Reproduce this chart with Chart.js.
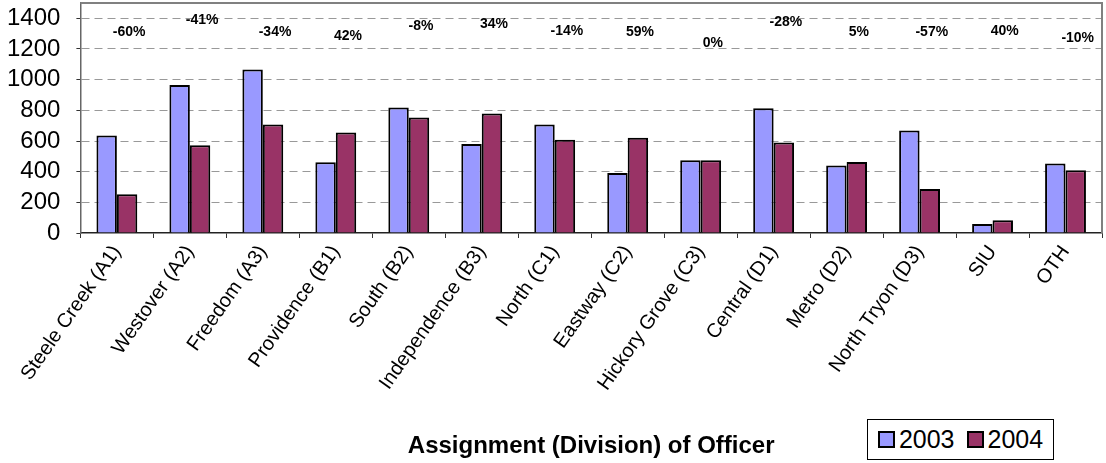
<!DOCTYPE html>
<html lang="en">
<head>
  <meta charset="UTF-8" />
  <title>Assignment (Division) of Officer</title>
  <script src="https://cdn.jsdelivr.net/npm/chart.js"></script>
  <style>
    html, body { margin: 0; padding: 0; background: #fff; }
    .wrap { position: relative; width: 1106px; height: 463px; }
    #legend {
      position: absolute; left: 867px; top: 419px; width: 185px; height: 39px;
      border: 1px solid #000; background: #fff;
      font-family: Arial, "Liberation Sans", sans-serif; font-size: 25px; color: #000;
      display: flex; align-items: center; justify-content: center; gap: 12px;
    }
    #legend span.item { display: flex; align-items: center; }
    #legend i { display: inline-block; width: 13px; height: 13px; border: 2px solid #000; margin-right: 4px; }
  </style>
</head>
<body>
  <div class="wrap">
    <canvas id="chart" width="1106" height="463"></canvas>
    <div id="legend"></div>
  </div>

  <script>
    const categories = [
      'Steele Creek (A1)', 'Westover (A2)', 'Freedom (A3)', 'Providence (B1)', 'South (B2)',
      'Independence (B3)', 'North (C1)', 'Eastway (C2)', 'Hickory Grove (C3)', 'Central (D1)',
      'Metro (D2)', 'North Tryon (D3)', 'SIU', 'OTH'
    ];
    const officers2003 = [636, 965, 1066, 461, 818, 581, 707, 391, 474, 814, 441, 669, 59, 454];
    const officers2004 = [252, 573, 707, 655, 753, 780, 608, 621, 474, 590, 463, 287, 83, 409];
    const changeLabels = ['-60%', '-41%', '-34%', '42%', '-8%', '34%', '-14%', '59%', '0%', '-28%', '5%', '-57%', '40%', '-10%'];
    // height (in axis units) where each change label sits
    const changeLabelHeights = [1309, 1388, 1307, 1283, 1349, 1362, 1318, 1307, 1235, 1373, 1307, 1307, 1318, 1268];
    const yTicks = [0, 200, 400, 600, 800, 1000, 1200, 1400];

    const colors = { y2003: '#9999FF', y2004: '#993366' };
    const font = 'Arial, "Liberation Sans", sans-serif';

    // percent change labels above the 2004 bars
    const changeLabelPlugin = {
      id: 'changeLabels',
      afterDatasetsDraw(chart) {
        const ctx = chart.ctx;
        const meta = chart.getDatasetMeta(1);
        const y = chart.scales.y;
        ctx.save();
        ctx.font = 'bold 14px ' + font;
        ctx.fillStyle = '#000';
        ctx.textAlign = 'center';
        ctx.textBaseline = 'middle';
        changeLabels.forEach((txt, i) => {
          ctx.fillText(txt, meta.data[i].x + 2, y.getPixelForValue(changeLabelHeights[i]));
        });
        ctx.restore();
      }
    };

    // gray frame on top and right of the plot area
    const framePlugin = {
      id: 'frame',
      afterDraw(chart) {
        const a = chart.chartArea;
        const ctx = chart.ctx;
        ctx.save();
        ctx.strokeStyle = '#808080';
        ctx.lineWidth = 2;
        ctx.beginPath();
        ctx.moveTo(a.left, a.top);
        ctx.lineTo(a.right, a.top);
        ctx.lineTo(a.right, a.bottom);
        ctx.stroke();
        ctx.restore();
      }
    };

    const chart = new Chart(document.getElementById('chart'), {
      type: 'bar',
      data: {
        labels: categories,
        datasets: [
          { label: '2003', data: officers2003, backgroundColor: colors.y2003, borderColor: '#000', borderWidth: 2, borderSkipped: 'bottom' },
          { label: '2004', data: officers2004, backgroundColor: colors.y2004, borderColor: '#000', borderWidth: 2, borderSkipped: 'bottom' }
        ]
      },
      options: {
        responsive: false,
        animation: false,
        // y axis box comes out a bit wide, pull it back to the left
        layout: { padding: { left: -9, right: 4, top: 3, bottom: 0 } },
        plugins: {
          legend: { display: false },
          tooltip: { enabled: false }
        },
        datasets: {
          bar: { categoryPercentage: 0.56, barPercentage: 1.0 }
        },
        scales: {
          x: {
            grid: { offset: true, drawOnChartArea: false, color: '#333', tickLength: 5, lineWidth: 1 },
            border: { color: '#222', width: 1.5 },
            ticks: {
              autoSkip: false, minRotation: 55, maxRotation: 55, padding: 3,
              color: '#000', font: { family: font, size: 20 }
            },
            title: {
              display: true, text: 'Assignment (Division) of Officer', color: '#000',
              font: { family: font, size: 24, weight: 'bold' },
              padding: { top: 37, bottom: 2 }
            }
          },
          y: {
            min: 0, max: 1500,
            afterBuildTicks(scale) { scale.ticks = yTicks.map(v => ({ value: v })); },
            // top tick is 1400, well below the top edge, no room needed above it
            afterFit(scale) { scale.paddingTop = 0; scale.paddingBottom = 0; },
            grid: {
              color: ctx => (ctx.tick && ctx.tick.value === 0) ? 'rgba(0,0,0,0)' : '#999',
              tickColor: '#333', tickLength: 4, lineWidth: 1
            },
            border: { color: '#666', width: 1.5, dash: [8, 5] },
            ticks: {
              autoSkip: false, padding: 16, color: '#000',
              font: { family: font, size: 24 },
              callback: v => String(v)
            }
          }
        }
      },
      plugins: [changeLabelPlugin, framePlugin]
    });

    // legend below the chart, right side
    const legend = document.getElementById('legend');
    chart.data.datasets.forEach(ds => {
      const item = document.createElement('span');
      item.className = 'item';
      const sw = document.createElement('i');
      sw.style.background = ds.backgroundColor;
      item.appendChild(sw);
      item.appendChild(document.createTextNode(ds.label));
      legend.appendChild(item);
    });
  </script>
</body>
</html>
